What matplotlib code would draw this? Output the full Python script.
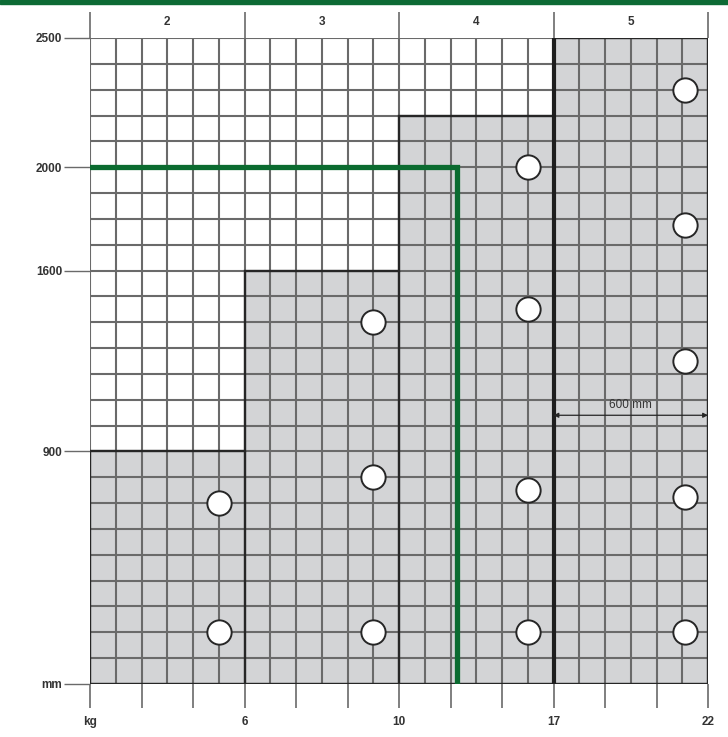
import numpy as np
import matplotlib
matplotlib.use('Agg')
from matplotlib import pyplot as plt
from matplotlib.patches import Rectangle

plt.rcParams['font.family'] = ['Liberation Sans', 'DejaVu Sans']

# sections: width in mm (x) and max height in mm (y)
section_edges = [0, 600, 1200, 1800, 2400]
section_heights = [900, 1600, 2200, 2500]
section_labels = ['2', '3', '4', '5']

y_ticks = [0, 900, 1600, 2000, 2500]
y_labels = ['mm', '900', '1600', '2000', '2500']
x_ticks = [0, 200, 400, 600, 800, 1000, 1200, 1400, 1600, 1800, 2000, 2200, 2400]
x_labels = ['kg', '', '', '6', '', '', '10', '', '', '17', '', '', '22']

# anchor points (mm)
circle_x = [500, 500, 1100, 1100, 1100, 1700, 1700, 1700, 1700, 2310, 2310, 2310, 2310, 2310]
circle_y = [700, 200, 1400, 800, 200, 2000, 1450, 750, 200, 2300, 1775, 1250, 725, 200]

# example reading (green)
reading_x = [0, 1425, 1425]
reading_y = [2000, 2000, 0]

GRID_COLOR = '#6a6a6a'
FILL_COLOR = '#d3d4d6'
DARK = '#262626'
GREEN = '#0b6b30'
TEXT = '#333333'

fig = plt.figure(figsize=(7.28, 7.37), dpi=100)
ax = fig.add_axes([90 / 728, 1 - 684 / 737, 618 / 728, 646 / 737])

# green band at the top of the page
fig.patches.append(Rectangle((0, 1 - 4 / 737), 1, 4 / 737, transform=fig.transFigure,
                             color='#0d6b35', zorder=0))

# gray step area
ax.stairs(section_heights, section_edges, baseline=0, fill=True, color=FILL_COLOR, zorder=1)

# grid every 100 mm
ax.vlines(np.arange(0, 2401, 100), 0, 2500, color=GRID_COLOR, lw=1.5, zorder=2)
ax.hlines(np.arange(0, 2501, 100), 0, 2400, color=GRID_COLOR, lw=1.5, zorder=2)

# outline of the step area and section dividers
ax.stairs(section_heights, section_edges, baseline=0, fill=False, color=DARK, lw=1.7, zorder=3)
ax.hlines(0, 0, 2400, color=DARK, lw=1.7, zorder=3)
ax.vlines([600, 1200], 0, [900, 1600], color=DARK, lw=1.7, zorder=3)
ax.vlines(1800, 0, 2500, color='#1e1e1e', lw=3, zorder=3)

# reading line
ax.plot(reading_x, reading_y, color=GREEN, lw=3.8, solid_joinstyle='miter', zorder=4)

# anchor circles
ax.plot(circle_x, circle_y, 'o', ms=17.5, mfc='white', mec=DARK, mew=1.4, zorder=5)

# 600 mm dimension
ax.annotate('', xy=(1800, 1040), xytext=(2400, 1040),
            arrowprops=dict(arrowstyle='<|-|>', color=DARK, lw=0.9,
                            mutation_scale=7, shrinkA=0, shrinkB=0), zorder=5)
ax.text(2100, 1080, '600 mm', ha='center', va='center', fontsize=8.5, color=TEXT, zorder=5)

ax.set_xlim(0, 2400)
ax.set_ylim(0, 2500)
for s in ax.spines.values():
    s.set_visible(False)

ax.set_yticks(y_ticks)
ax.set_yticklabels(y_labels)
ax.set_xticks(x_ticks)
ax.set_xticklabels(x_labels)
ax.tick_params(axis='y', length=19, width=1, color=GRID_COLOR, pad=1, labelsize=8.5, labelcolor=TEXT)
ax.tick_params(axis='x', length=17, width=1.2, color=GRID_COLOR, pad=6, labelsize=8.5, labelcolor=TEXT)
for lbl in ax.get_yticklabels() + ax.get_xticklabels():
    lbl.set_fontweight('bold')

# top axis: section boundaries with labels in between
top = ax.secondary_xaxis('top')
top.set_xticks(section_edges)
top.set_xticklabels([''] * len(section_edges))
top.set_xticks([(a + b) / 2 for a, b in zip(section_edges[:-1], section_edges[1:])],
               labels=section_labels, minor=True)
top.tick_params(which='major', length=19, width=1.2, color=GRID_COLOR)
top.tick_params(which='minor', length=0, pad=7, labelsize=8.5, labelcolor=TEXT)
for lbl in top.get_xticklabels(minor=True):
    lbl.set_fontweight('bold')
top.spines['top'].set_visible(False)

fig.savefig('out.png', dpi=100)
